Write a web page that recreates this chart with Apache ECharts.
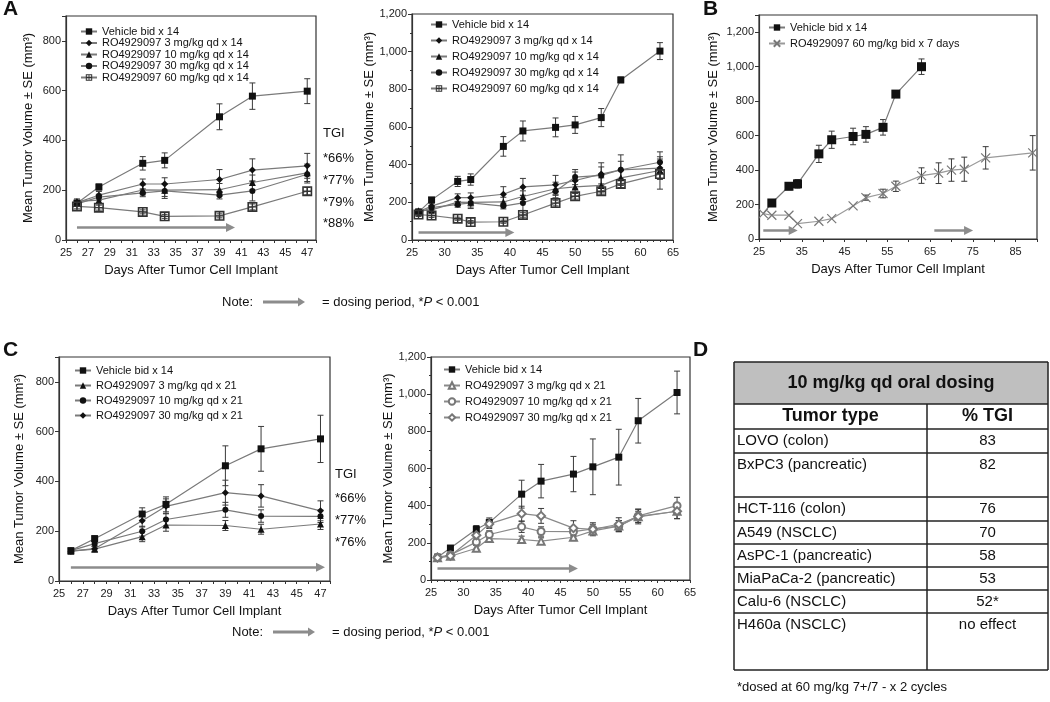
<!DOCTYPE html>
<html>
<head>
<meta charset="utf-8">
<title>RO4929097 xenograft studies</title>
<script src="https://cdn.jsdelivr.net/npm/echarts@6/dist/echarts.min.js"></script>
<style>
html, body { margin: 0; padding: 0; background: #fff; }
#fig { width: 1050px; height: 702px; }
</style>
</head>
<body>
<div id="fig"></div>
<script>
var FONT = '"Liberation Sans", Arial, Helvetica, sans-serif';

// ---- Panel A, left: days 26-47
var days_AL = [26, 28, 32, 34, 39, 42, 47];
var veh_AL = [148, 213, 308, 320, 495, 578, 598];
var vehErr_AL = [10, 12, 27, 30, 52, 53, 50];
var mg3_AL = [150, 180, 225, 225, 243, 281, 298];
var mg3Err_AL = [10, 15, 20, 25, 40, 45, 50];
var mg10_AL = [155, 160, 201, 200, 202, 231, 270];
var mg10Err_AL = [10, 15, 20, 25, 25, 30, 35];
var mg30_AL = [145, 172, 189, 197, 180, 197, 264];
var mg30Err_AL = [10, 12, 15, 30, 15, 40, 35];
var mg60_AL = [135, 130, 113, 95, 97, 133, 196];
var mg60Err_AL = [10, 10, 8, 8, 8, 12, 15];

// ---- Panel A, right: days 26-63
var days_AR = [26, 28, 32, 34, 39, 42, 47, 50, 54, 57, 63];
var veh_AR = [148, 213, 311, 321, 497, 579, 598, 611, 650, 850, 1003];
var vehErr_AR = [10, 12, 27, 30, 52, 53, 50, 45, 48, 15, 45];
var mg3_AR = [150, 180, 225, 225, 243, 282, 293, 316, 350, 372, 382];
var mg3Err_AR = [10, 15, 20, 25, 40, 45, 50, 45, 60, 80, 60];
var mg10_AR = [155, 160, 201, 200, 202, 231, 272, 282, 290, 330, 369];
var mg10Err_AR = [10, 15, 20, 25, 25, 30, 35, 30, 40, 40, 45];
var mg30_AR = [145, 172, 189, 197, 180, 197, 259, 334, 343, 373, 413];
var mg30Err_AR = [10, 12, 15, 30, 15, 40, 35, 40, 45, 45, 55];
var mg60_AR = [135, 130, 113, 95, 97, 133, 196, 232, 259, 298, 350];
var mg60Err_AR = [10, 10, 8, 8, 8, 12, 15, 15, 20, 20, 80];

// ---- Panel B
var daysVeh_B = [26, 28, 32, 34, 39, 42, 47, 50, 54, 57, 63];
var veh_B = [148, 209, 306, 320, 494, 576, 595, 607, 648, 841, 1000];
var vehErr_B = [0, 12, 20, 25, 50, 50, 48, 45, 45, 20, 45];
var daysRo_B = [26, 28, 32, 34, 39, 42, 47, 50, 54, 57, 63, 67, 70, 73, 78, 89];
var ro_B = [147, 138, 138, 89, 103, 118, 192, 240, 264, 306, 368, 382, 400, 405, 471, 500];
var roErr_B = [0, 0, 0, 0, 0, 0, 0, 15, 25, 30, 45, 60, 65, 70, 65, 100];

// ---- Panel C, left: days 26-47
var days_CL = [26, 28, 32, 34, 39, 42, 47];
var veh_CL = [122, 170, 269, 308, 463, 531, 571];
var vehErr_CL = [10, 12, 25, 30, 80, 90, 95];
var mg3_CL = [120, 128, 178, 225, 223, 208, 229];
var mg3Err_CL = [8, 10, 20, 25, 20, 20, 22];
var mg10_CL = [122, 150, 200, 247, 286, 261, 260];
var mg10Err_CL = [8, 10, 20, 25, 30, 25, 25];
var mg30_CL = [120, 130, 242, 300, 355, 342, 282];
var mg30Err_CL = [8, 10, 25, 30, 50, 45, 40];

// ---- Panel C, right: days 26-63
var days_CR = [26, 28, 32, 34, 39, 42, 47, 50, 54, 57, 63];
var veh_CR = [123, 172, 273, 309, 462, 532, 570, 609, 661, 857, 1009];
var vehErr_CR = [8, 10, 20, 25, 75, 90, 95, 150, 150, 120, 115];
var mg3_CR = [120, 128, 171, 223, 218, 209, 230, 264, 290, 340, 370];
var mg3Err_CR = [8, 10, 15, 20, 18, 18, 18, 20, 30, 30, 40];
var mg10_CR = [122, 135, 204, 245, 286, 261, 260, 275, 290, 345, 400];
var mg10Err_CR = [8, 10, 15, 20, 30, 25, 25, 25, 30, 35, 45];
var mg30_CR = [120, 130, 241, 302, 357, 345, 279, 273, 300, 342, 370];
var mg30Err_CR = [8, 10, 20, 25, 40, 40, 40, 35, 35, 40, 40];

// dosing periods: [first day, last day, drawn at volume]
var dosing_AL = [[26, 40, 50]];
var dosing_AR = [[26, 40, 40]];
var dosing_B = [[26, 33, 50], [66, 74, 50]];
var dosing_CL = [[26, 47, 55]];
var dosing_CR = [[26, 47, 62]];

var namesA = ['Vehicle bid x 14', 'RO4929097 3 mg/kg qd x 14', 'RO4929097 10 mg/kg qd x 14',
  'RO4929097 30 mg/kg qd x 14', 'RO4929097 60 mg/kg qd x 14'];
var namesB = ['Vehicle bid x 14', 'RO4929097 60 mg/kg bid x 7 days'];
var namesC = ['Vehicle bid x 14', 'RO4929097 3 mg/kg qd x 21', 'RO4929097 10 mg/kg qd x 21',
  'RO4929097 30 mg/kg qd x 21'];

var tgiA = ['TGI', '*66%', '*77%', '*79%', '*88%'];
var tgiC = ['TGI', '*66%', '*77%', '*76%'];

var tableTitle = '10 mg/kg qd oral dosing';
var tableHead = ['Tumor type', '% TGI'];
var tumorTypes = ['LOVO (colon)', 'BxPC3 (pancreatic)', 'HCT-116 (colon)', 'A549 (NSCLC)',
  'AsPC-1 (pancreatic)', 'MiaPaCa-2 (pancreatic)', 'Calu-6 (NSCLC)', 'H460a (NSCLC)'];
var tumorTgi = ['83', '82', '76', '70', '58', '53', '52*', 'no effect'];
var tableNote = '*dosed at 60 mg/kg 7+/7 - x 2 cycles';

// ---------------------------------------------------------------
var INK = '#111';
var GRAY = '#7a7a7a';
var CROSS_SQ = 'path://M0,0H10V10H0Z M1.6,1.6V4.3H4.3V1.6Z M5.7,1.6V4.3H8.4V1.6Z M1.6,5.7V8.4H4.3V5.7Z M5.7,5.7V8.4H8.4V5.7Z';
var X_MARK = 'path://M0,0L10,10M10,0L0,10';

function thousands(v) {
  var s = String(v);
  return v >= 1000 ? s.slice(0, s.length - 3) + ',' + s.slice(-3) : s;
}

function errRender(params, api) {
  var x = api.value(0);
  var lo = api.coord([x, api.value(1)]);
  var hi = api.coord([x, api.value(2)]);
  var c = 3;
  var st = { stroke: '#3a3a3a', lineWidth: 1 };
  return {
    type: 'group',
    children: [
      { type: 'line', shape: { x1: lo[0], y1: lo[1], x2: hi[0], y2: hi[1] }, style: st },
      { type: 'line', shape: { x1: hi[0] - c, y1: hi[1], x2: hi[0] + c, y2: hi[1] }, style: st },
      { type: 'line', shape: { x1: lo[0] - c, y1: lo[1], x2: lo[0] + c, y2: lo[1] }, style: st }
    ]
  };
}

var series = [];

function addCurve(gi, key, name, days, vals, errs, look, dosing) {
  var eb = [];
  days.forEach(function (d, i) {
    if (errs[i] > 0) eb.push([d, vals[i] - errs[i], vals[i] + errs[i]]);
  });
  series.push({
    type: 'custom', xAxisIndex: gi, yAxisIndex: gi, renderItem: errRender,
    data: eb, encode: { x: 0, y: [1, 2] }, silent: true, z: 2
  });
  var pts = days.map(function (d, i) { return [d, vals[i]]; });
  if (look.skipFirst) pts[0] = { value: pts[0], symbol: 'none' };
  var s = {
    type: 'line', name: key + '::' + name, xAxisIndex: gi, yAxisIndex: gi,
    data: pts,
    symbol: look.symbol, symbolSize: look.size, showAllSymbol: true,
    lineStyle: { color: look.line || GRAY, width: 1.2 },
    itemStyle: { color: look.fill, borderColor: look.stroke || look.fill, borderWidth: look.bw || 0 },
    z: 3, silent: true
  };
  if (dosing) {
    s.markLine = {
      silent: true, symbol: ['none', 'triangle'], symbolSize: 9,
      lineStyle: { color: '#8c8c8c', width: 2.5, type: 'solid' },
      itemStyle: { color: '#8c8c8c' },
      label: { show: false },
      data: dosing.map(function (a) { return [{ coord: [a[0], a[2]] }, { coord: [a[1], a[2]] }]; })
    };
  }
  series.push(s);
}

var VEH = { symbol: 'rect', size: 7, fill: INK };
var DIA = { symbol: 'diamond', size: 7, fill: INK };
var TRI = { symbol: 'triangle', size: 7, fill: INK };
var CIR = { symbol: 'circle', size: 6, fill: INK };
var SQX = { symbol: CROSS_SQ, size: 10, fill: '#333' };

// A left
addCurve(0, 'AL', namesA[0], days_AL, veh_AL, vehErr_AL, VEH, dosing_AL);
addCurve(0, 'AL', namesA[1], days_AL, mg3_AL, mg3Err_AL, DIA);
addCurve(0, 'AL', namesA[2], days_AL, mg10_AL, mg10Err_AL, TRI);
addCurve(0, 'AL', namesA[3], days_AL, mg30_AL, mg30Err_AL, CIR);
addCurve(0, 'AL', namesA[4], days_AL, mg60_AL, mg60Err_AL, SQX);
// A right
addCurve(1, 'AR', namesA[0], days_AR, veh_AR, vehErr_AR, VEH, dosing_AR);
addCurve(1, 'AR', namesA[1], days_AR, mg3_AR, mg3Err_AR, DIA);
addCurve(1, 'AR', namesA[2], days_AR, mg10_AR, mg10Err_AR, TRI);
addCurve(1, 'AR', namesA[3], days_AR, mg30_AR, mg30Err_AR, CIR);
addCurve(1, 'AR', namesA[4], days_AR, mg60_AR, mg60Err_AR, SQX);
// B (vehicle line starts under the first X marker, no square there)
addCurve(2, 'B', namesB[0], daysVeh_B, veh_B, vehErr_B, { symbol: 'rect', size: 9, fill: INK, skipFirst: true }, dosing_B);
addCurve(2, 'B', namesB[1], daysRo_B, ro_B, roErr_B,
  { symbol: X_MARK, size: 9, fill: '#fff', stroke: '#777', bw: 1.2, line: '#9a9a9a' });
// C left
addCurve(3, 'CL', namesC[0], days_CL, veh_CL, vehErr_CL, VEH, dosing_CL);
addCurve(3, 'CL', namesC[1], days_CL, mg3_CL, mg3Err_CL, TRI);
addCurve(3, 'CL', namesC[2], days_CL, mg10_CL, mg10Err_CL, CIR);
addCurve(3, 'CL', namesC[3], days_CL, mg30_CL, mg30Err_CL, DIA);
// C right
addCurve(4, 'CR', namesC[0], days_CR, veh_CR, vehErr_CR, VEH, dosing_CR);
addCurve(4, 'CR', namesC[1], days_CR, mg3_CR, mg3Err_CR, { symbol: 'emptyTriangle', size: 7, fill: '#777', line: '#8a8a8a' });
addCurve(4, 'CR', namesC[2], days_CR, mg10_CR, mg10Err_CR, { symbol: 'emptyCircle', size: 7, fill: '#777', line: '#8a8a8a' });
addCurve(4, 'CR', namesC[3], days_CR, mg30_CR, mg30Err_CR, { symbol: 'emptyDiamond', size: 8, fill: '#777', line: '#8a8a8a' });

function gridDef(l, t, w, h) {
  return { left: l, top: t, width: w, height: h, show: true, borderColor: '#333', borderWidth: 1.2,
    backgroundColor: 'transparent', outerBoundsMode: 'none', containLabel: false };
}

function xAxisDef(gi, max, interval, labelStep, minor) {
  return {
    type: 'value', gridIndex: gi, min: 25, max: max, interval: interval,
    name: 'Days After Tumor Cell Implant', nameLocation: 'middle', nameGap: 24,
    nameTextStyle: { fontFamily: FONT, fontSize: 13, color: INK },
    axisLine: { onZero: false, lineStyle: { color: '#333', width: 1.2 } },
    axisTick: { length: 3, lineStyle: { color: '#333' } },
    minorTick: minor ? { show: true, splitNumber: minor, length: 2, lineStyle: { color: '#333' } } : { show: false },
    splitLine: { show: false },
    axisLabel: {
      fontFamily: FONT, fontSize: 11, color: '#222', margin: 7,
      formatter: function (v) { return Math.abs((v - 25) % labelStep) < 1e-6 ? String(v) : ''; }
    }
  };
}

function yAxisDef(gi, max, gap, minor) {
  return {
    type: 'value', gridIndex: gi, min: 0, max: max, interval: 200,
    name: 'Mean Tumor Volume \u00b1 SE (mm\u00b3)', nameLocation: 'middle', nameGap: gap,
    nameTextStyle: { fontFamily: FONT, fontSize: 13, color: INK },
    axisLine: { onZero: false, lineStyle: { color: '#333', width: 1.2 } },
    axisTick: { length: 4, lineStyle: { color: '#333' } },
    minorTick: minor ? { show: true, splitNumber: 2, length: 2, lineStyle: { color: '#333' } } : { show: false },
    splitLine: { show: false },
    axisLabel: {
      fontFamily: FONT, fontSize: 11, color: '#222', margin: 5,
      formatter: function (v) { return v % 200 === 0 ? thousands(v) : ''; }
    }
  };
}

function legendDef(key, names, left, top, gap) {
  return {
    orient: 'vertical', left: left, top: top, padding: 0, itemGap: gap,
    itemWidth: 16, itemHeight: 8, selectedMode: false,
    textStyle: { fontFamily: FONT, fontSize: 11, color: INK },
    formatter: function (n) { return n.split('::')[1]; },
    data: names.map(function (n) { return key + '::' + n; })
  };
}

// ---- annotations, note lines and the table
var graphics = [];
function txt(x, y, s, size, opts) {
  opts = opts || {};
  graphics.push({
    type: 'text', silent: true,
    style: {
      text: s, x: x, y: y, fill: INK,
      font: (opts.bold ? 'bold ' : '') + size + 'px ' + FONT,
      align: opts.align || 'left', verticalAlign: 'middle'
    }
  });
}
function noteArrow(x1, x2, y) {
  graphics.push({ type: 'line', silent: true, shape: { x1: x1, y1: y, x2: x2 - 6, y2: y },
    style: { stroke: '#8c8c8c', lineWidth: 3 } });
  graphics.push({ type: 'polygon', silent: true, shape: { points: [[x2 - 7, y - 4.5], [x2, y], [x2 - 7, y + 4.5]] },
    style: { fill: '#8c8c8c' } });
}
function note(x, y) {
  graphics.push({
    type: 'text', silent: true,
    style: {
      x: x, y: y, verticalAlign: 'middle',
      text: 'Note:', font: '13px ' + FONT, fill: INK
    }
  });
  noteArrow(x + 41, x + 83, y);
  graphics.push({
    type: 'text', silent: true,
    style: {
      x: x + 100, y: y, verticalAlign: 'middle', fill: INK, font: '13px ' + FONT,
      text: '= dosing period, *{i|P} < 0.001',
      rich: { i: { fontStyle: 'italic', fontSize: 13, fontFamily: FONT, fill: INK } }
    }
  });
}

txt(3, 9, 'A', 21, { bold: true });
txt(703, 9, 'B', 21, { bold: true });
txt(3, 350, 'C', 21, { bold: true });
txt(693, 350, 'D', 21, { bold: true });

[133, 158, 180, 202, 223].forEach(function (y, i) { txt(323, y, tgiA[i], 13); });
[474, 498, 520, 542].forEach(function (y, i) { txt(335, y, tgiC[i], 13); });

note(222, 302);
note(232, 632);

// table
var TL = 734, TR = 1048, TC = 927;
var rowEdges = [362, 404, 429, 453, 497, 521, 544, 567, 590, 613, 670];
graphics.push({ type: 'rect', silent: true,
  shape: { x: TL, y: rowEdges[0], width: TR - TL, height: rowEdges[1] - rowEdges[0] },
  style: { fill: '#bfbfbf' } });
rowEdges.forEach(function (y) {
  graphics.push({ type: 'line', silent: true, shape: { x1: TL, y1: y, x2: TR, y2: y },
    style: { stroke: '#222', lineWidth: 1.5 } });
});
[[TL, rowEdges[0]], [TR, rowEdges[0]], [TC, rowEdges[1]]].forEach(function (p) {
  graphics.push({ type: 'line', silent: true,
    shape: { x1: p[0], y1: p[1], x2: p[0], y2: rowEdges[rowEdges.length - 1] },
    style: { stroke: '#222', lineWidth: 1.5 } });
});
txt((TL + TR) / 2, (rowEdges[0] + rowEdges[1]) / 2, tableTitle, 18, { bold: true, align: 'center' });
txt((TL + TC) / 2, (rowEdges[1] + rowEdges[2]) / 2, tableHead[0], 18, { bold: true, align: 'center' });
txt((TC + TR) / 2, (rowEdges[1] + rowEdges[2]) / 2, tableHead[1], 18, { bold: true, align: 'center' });
tumorTypes.forEach(function (t, i) {
  var y = rowEdges[i + 2] + 12;
  txt(TL + 3, y, t, 15);
  txt((TC + TR) / 2, y, tumorTgi[i], 15, { align: 'center' });
});
txt(TL + 3, 687, tableNote, 13);

var chart = echarts.init(document.getElementById('fig'), null, { renderer: 'canvas' });
chart.setOption({
  animation: false,
  backgroundColor: '#fff',
  textStyle: { fontFamily: FONT },
  grid: [
    gridDef(66, 16, 250, 224),
    gridDef(412, 14, 261, 226),
    gridDef(759, 15, 278, 224),
    gridDef(59, 357, 271, 224),
    gridDef(431, 357, 259, 223)
  ],
  xAxis: [
    xAxisDef(0, 47.8, 1, 2, 0),
    xAxisDef(1, 65, 5, 5, 5),
    xAxisDef(2, 90, 5, 10, 0),
    xAxisDef(3, 47.8, 1, 2, 0),
    xAxisDef(4, 65, 5, 5, 5)
  ],
  yAxis: [
    yAxisDef(0, 900, 31, false),
    yAxisDef(1, 1200, 35, true),
    yAxisDef(2, 1300, 39, false),
    yAxisDef(3, 900, 33, false),
    yAxisDef(4, 1200, 36, true)
  ],
  legend: [
    legendDef('AL', namesA, 80, 26, 0.5),
    legendDef('AR', namesA, 430, 19, 5),
    legendDef('B', namesB, 768, 22, 5),
    legendDef('CL', namesC, 74, 365, 4),
    legendDef('CR', namesC, 443, 364, 5)
  ],
  tooltip: { show: false },
  series: series,
  graphic: graphics
});
</script>
</body>
</html>
